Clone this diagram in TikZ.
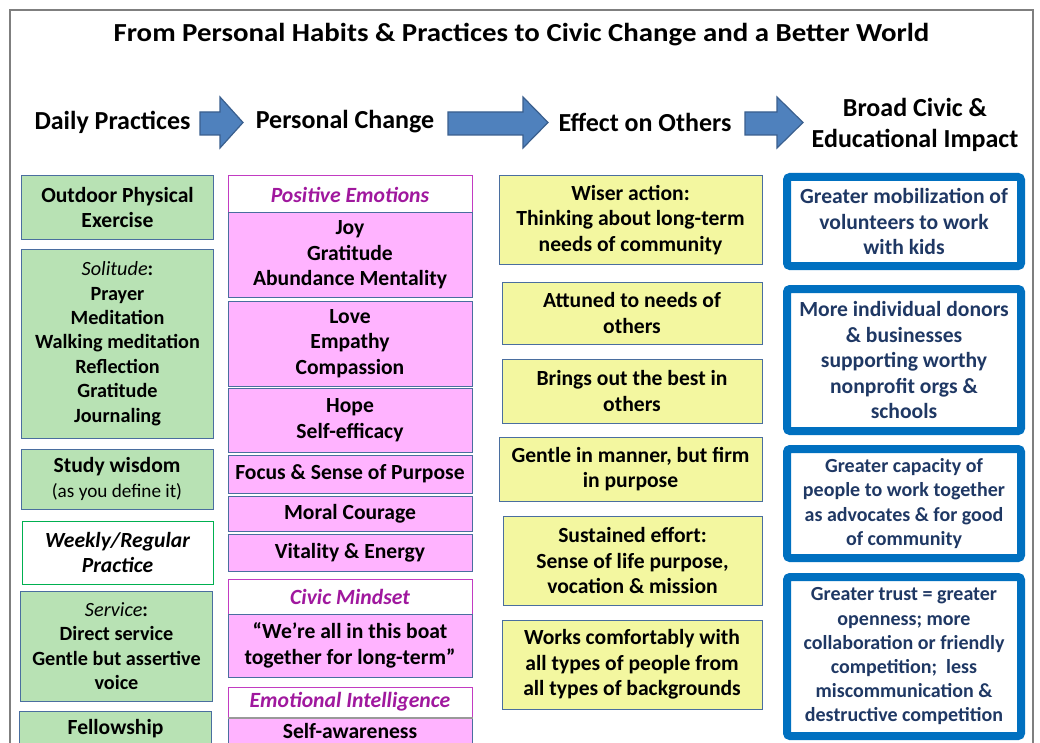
\documentclass[tikz,border=0pt]{standalone}
\usepackage{fontspec}
\setmainfont{Carlito}
\definecolor{gfill}{HTML}{B8E2B4}
\definecolor{pfill}{HTML}{FFB3FF}
\definecolor{yfill}{HTML}{F3F7A0}
\definecolor{bframe}{HTML}{4A6E9F}
\definecolor{mframe}{HTML}{C23BC2}
\definecolor{mtext}{HTML}{A0189E}
\definecolor{wframe}{HTML}{00B050}
\definecolor{cblue}{HTML}{0070C0}
\definecolor{navy}{HTML}{1F3864}
\definecolor{arrfill}{HTML}{4F81BD}
\definecolor{arrline}{HTML}{3A5F8E}
\definecolor{framegray}{HTML}{7F7F7F}
\begin{document}
\begin{tikzpicture}[x=1pt,y=-1pt,
  base/.style={draw, line width=1pt, align=center, inner sep=0pt,
    font=\fontsize{21.6}{25.5}\selectfont\bfseries},
  small/.style={font=\fontsize{20.2}{24.4}\selectfont\bfseries},
  gbox/.style={base, fill=gfill, draw=bframe, minimum width=192pt},
  wbox/.style={base, fill=white, draw=wframe, minimum width=191pt},
  pbox/.style={base, fill=pfill, draw=bframe, minimum width=244pt},
  phead/.style={base, fill=white, draw=mframe, minimum width=244pt, text=mtext,
    font=\fontsize{21.7}{25.5}\selectfont\bfseries\itshape},
  ybox/.style={base, fill=yfill, draw=bframe},
  cbox/.style={base, fill=white, draw=cblue, line width=8pt, rounded corners=3pt,
    minimum width=234pt, text=navy},
  hdr/.style={font=\fontsize{26}{31}\selectfont\bfseries, align=center, inner sep=0pt},
  blockarrow/.style={fill=arrfill, draw=arrline, line width=1.2pt, line join=miter}
]
\useasboundingbox (0,0) rectangle (1040,743);
\fill[white] (0,0) rectangle (1040,743);
\draw[framegray, line width=2pt] (10,760) -- (10,10) -- (1033,10) -- (1033,760);

% title and headers
\node[hdr] (title) at (521.5,35) {\scalebox{1.11}[1]{From Personal Habits \& Practices to Civic Change and a Better World}};
\node[hdr] (h1) at (112.5,122) {Daily Practices};
\node[hdr] (h2) at (345,122) {Personal Change};
\node[hdr] (h3) at (645,122) {Effect on Others};
\node[hdr] (h4) at (915,125) {Broad Civic \&\\Educational Impact};

\draw[blockarrow] (200,112) -- (220,112) -- (220,97) -- (243,122.5) -- (220,148) -- (220,135) -- (200,135) -- cycle;
\draw[blockarrow] (448,112) -- (523,112) -- (523,97) -- (548,122.5) -- (523,148) -- (523,135) -- (448,135) -- cycle;
\draw[blockarrow] (745,112) -- (777,112) -- (777,97) -- (803,122.5) -- (777,148) -- (777,135) -- (745,135) -- cycle;

% column 1
\node[gbox, minimum height=63pt] (g1) at (117.5,207.5) {Outdoor Physical\\Exercise};
\node[gbox, small, minimum height=189pt] (g2) at (117.5,343.5) {{\mdseries\itshape Solitude}:\\Prayer\\Meditation\\Walking meditation\\Reflection\\Gratitude\\Journaling};
\node[gbox, minimum height=60pt] (g3) at (117,479) {Study wisdom\\{\mdseries\fontsize{19.2}{23}\selectfont (as you define it)}};
\node[wbox, minimum height=63pt] (g4) at (117.5,552.5) {\itshape Weekly/Regular\\\itshape Practice};
\node[gbox, small, minimum height=110pt] (g5) at (116.5,646) {{\mdseries\itshape Service}:\\Direct service\\Gentle but assertive\\voice};
\node[gbox, minimum height=36pt] (g6) at (115.5,729) {Fellowship};

% column 2
\node[phead, minimum height=37pt] (ph1) at (350,194.5) {Positive Emotions};
\node[pbox, minimum height=84pt] (p1) at (350,255) {Joy\\Gratitude\\Abundance Mentality};
\node[pbox, minimum height=85pt] (p2) at (350,343.5) {Love\\Empathy\\Compassion};
\node[pbox, minimum height=64pt] (p3) at (350,420) {Hope\\Self-efficacy};
\node[pbox, minimum height=38pt] (p4) at (350,474) {Focus \& Sense of Purpose};
\node[pbox, minimum height=35pt] (p5) at (350,513.5) {Moral Courage};
\node[pbox, minimum height=37pt] (p6) at (350,552.5) {Vitality \& Energy};
\node[phead, minimum height=35pt] (ph2) at (350,596.5) {Civic Mindset};
\node[pbox, minimum height=63pt] (p7) at (350,645.5) {“We’re all in this boat\\together for long-term”};
\node[phead, minimum height=30pt] (ph3) at (350,702) {Emotional Intelligence};
\node[pbox, minimum height=28pt] (p8) at (350,731) {Self-awareness};
\draw[gray!80, line width=2pt] (ph3.south west) -- (ph3.south east);

% column 3
\node[ybox, minimum width=263pt, minimum height=88pt] (y1) at (630.5,220) {Wiser action:\\Thinking about long-term\\needs of community};
\node[ybox, minimum width=260pt, minimum height=62pt] (y2) at (632,313) {Attuned to needs of\\others};
\node[ybox, minimum width=260pt, minimum height=64pt] (y3) at (632,391) {Brings out the best in\\others};
\node[ybox, minimum width=263pt, minimum height=64pt] (y4) at (630.5,469) {Gentle in manner, but firm\\in purpose};
\node[ybox, minimum width=259pt, minimum height=89pt] (y5) at (632.5,560.5) {Sustained effort:\\Sense of life purpose,\\vocation \& mission};
\node[ybox, minimum width=260pt, minimum height=89pt] (y6) at (632,664.5) {Works comfortably with\\all types of people from\\all types of backgrounds};

% column 4
\node[cbox, minimum height=89pt] (b1) at (904,221.5) {Greater mobilization of\\volunteers to work\\with kids};
\node[cbox, minimum height=142pt] (b2) at (904,360) {More individual donors\\\& businesses\\supporting worthy\\nonprofit orgs \&\\schools};
\node[cbox, minimum height=109pt, font=\fontsize{20}{24.5}\selectfont\bfseries] (b3) at (904,503.5) {Greater capacity of\\people to work together\\as advocates \& for good\\of community};
\node[cbox, minimum height=159pt, font=\fontsize{20}{24.2}\selectfont\bfseries] (b4) at (904,656.5) {Greater trust = greater\\openness; more\\collaboration or friendly\\competition;\ \ less\\miscommunication \&\\destructive competition};
\end{tikzpicture}
\end{document}
